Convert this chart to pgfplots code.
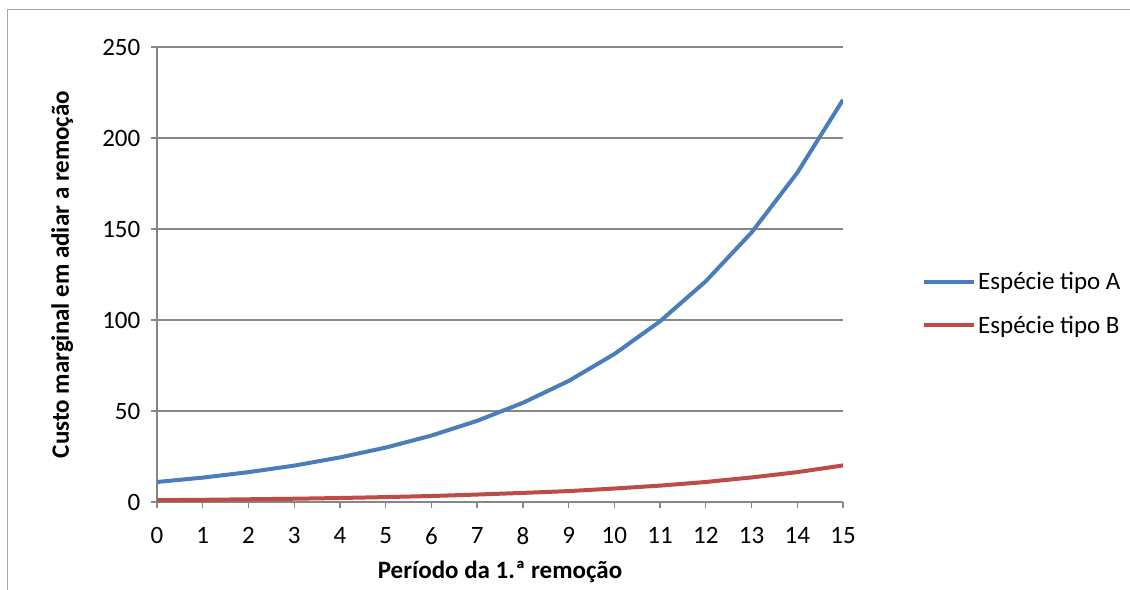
\documentclass[border=0pt]{standalone}
\usepackage{pgfplots}
\pgfplotsset{compat=1.18}
\usepackage{fontspec}
\setmainfont{Carlito}
\definecolor{serA}{HTML}{4A7EBB}
\definecolor{serB}{HTML}{BE4B48}
\definecolor{gridc}{HTML}{868686}
\definecolor{framec}{HTML}{A6A6A6}
\begin{document}
\begin{tikzpicture}
\useasboundingbox (0,0) rectangle (847.5pt,-441.75pt);
\begin{scope}
\clip (0,0) rectangle (847.5pt,-441.75pt);
\draw[framec, line width=0.9pt] (5.6pt,-7.1pt) rectangle (870pt,-470pt);
\end{scope}
\begin{axis}[
  at={(117.75pt,-376.5pt)}, anchor=south west,
  scale only axis, width=514.5pt, height=341.25pt,
  xmin=0, xmax=15, ymin=0, ymax=250,
  xtick={0,...,15}, ytick={0,50,...,250},
  font=\fontsize{18.75}{22}\selectfont,
  /pgf/number format/assume math mode=true,
  axis line style={gridc, line width=1pt},
  axis x line=bottom, axis y line=left,
  x axis line style={-}, y axis line style={-},
  ymajorgrids, major grid style={gridc, line width=1pt},
  tick style={gridc, line width=1pt},
  major tick length=4.5pt,
  tick pos=left, tick align=outside,
  xticklabel style={yshift=-11pt},
  yticklabel style={xshift=-4.5pt},
  xlabel={\bfseries Período da 1.ª remoção},
  ylabel={\bfseries Custo marginal em adiar a remoção},
  xlabel style={at={(rel axis cs:0.5,0)}, anchor=center, yshift=-52.5pt},
  ylabel style={at={(rel axis cs:0,0.5)}, anchor=center, yshift=71pt},
  legend style={draw=none, fill=none, at={(rel axis cs:1.115,0.436)}, anchor=west,
    row sep=15.25pt, font=\fontsize{18.75}{22}\selectfont, inner sep=0pt,
    nodes={inner sep=1.5pt}},
  legend cell align=left,
  legend image code/.code={\draw[#1] (0pt,0pt) -- (37.5pt,0pt);},
]
\addplot[serA, line width=3pt] coordinates {
(0,11.0) (1,13.4) (2,16.4) (3,20.0) (4,24.5) (5,29.9) (6,36.5) (7,44.6)
(8,54.5) (9,66.5) (10,81.3) (11,99.3) (12,121.3) (13,148.1) (14,180.9) (15,221.0)};
\addlegendentry{Espécie tipo A}
\addplot[serB, line width=3pt] coordinates {
(0,1.0) (1,1.2) (2,1.5) (3,1.8) (4,2.2) (5,2.7) (6,3.3) (7,4.1)
(8,5.0) (9,6.0) (10,7.4) (11,9.0) (12,11.0) (13,13.5) (14,16.4) (15,20.1)};
\addlegendentry{Espécie tipo B}
\end{axis}
\end{tikzpicture}
\end{document}
